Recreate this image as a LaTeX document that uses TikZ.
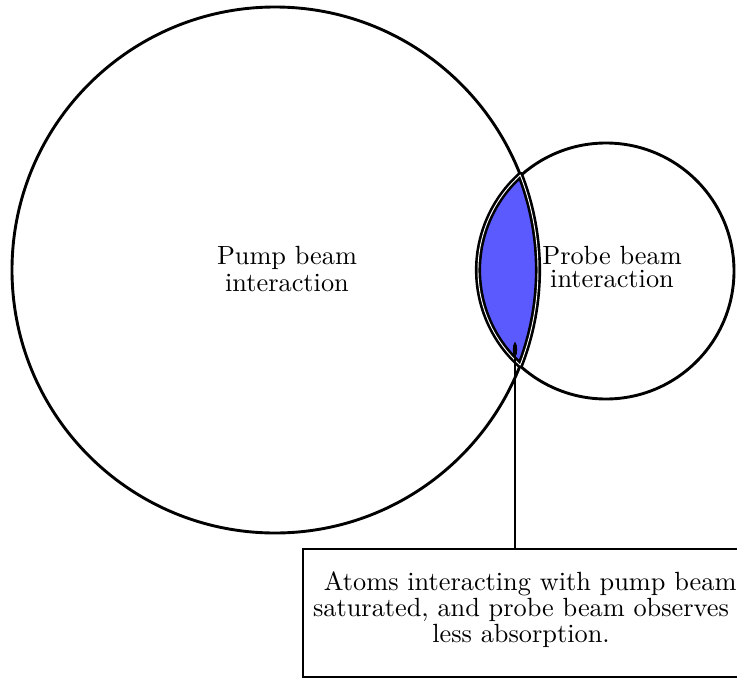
\documentclass[tikz,border=0pt]{standalone}
\usetikzlibrary{arrows.meta, positioning}
\definecolor{lensblue}{RGB}{90,90,255}

\begin{document}
\begin{tikzpicture}[x=0.38pt, y=-0.38pt]
  \useasboundingbox (0,0) rectangle (737,679);
  \tikzset{
    beamcircle/.style={line width=1.1pt},
    lens/.style={fill=lensblue, draw=black, double=white, double distance=0.35pt, line width=1pt, line join=round},
    beamlabel/.style={align=center, inner sep=0pt},
    notebox/.style={draw, thick, minimum width=165.7pt, minimum height=48.6pt, inner sep=0pt},
  }
  \coordinate (pumpc) at (275,270);
  \coordinate (probec) at (606,271);

  \draw[beamcircle] (pumpc) circle[radius=263];
  \draw[beamcircle] (probec) circle[radius=128];

  % overlap of the two beams
  \path[lens] (pumpc) ++(-21.2:263) arc[start angle=-21.2, end angle=21.2, radius=263]
    arc[start angle=132.1, end angle=227.9, radius=128] -- cycle;

  \node[beamlabel, font={\fontsize{10pt}{10.2pt}\selectfont}] (pumplabel) at (287,269) {Pump beam\\interaction};
  \node[beamlabel, font={\fontsize{10pt}{8.5pt}\selectfont}] (probelabel) at (612,267) {Probe beam\\interaction};

  \node[notebox] (note) at (521,613) {};
  \node[beamlabel, font={\fontsize{10pt}{8.3pt}\selectfont}, below=8.7pt of note.north] (notetext)
    {\hspace*{7pt}Atoms interacting with pump beam\\saturated, and probe beam observes\\less absorption.};

  \coordinate (tip) at (515,343);
  \draw[thick, -{Ellipse[length=5pt, width=1.6pt]}] (note.north -| tip) -- (tip);
\end{tikzpicture}
\end{document}
